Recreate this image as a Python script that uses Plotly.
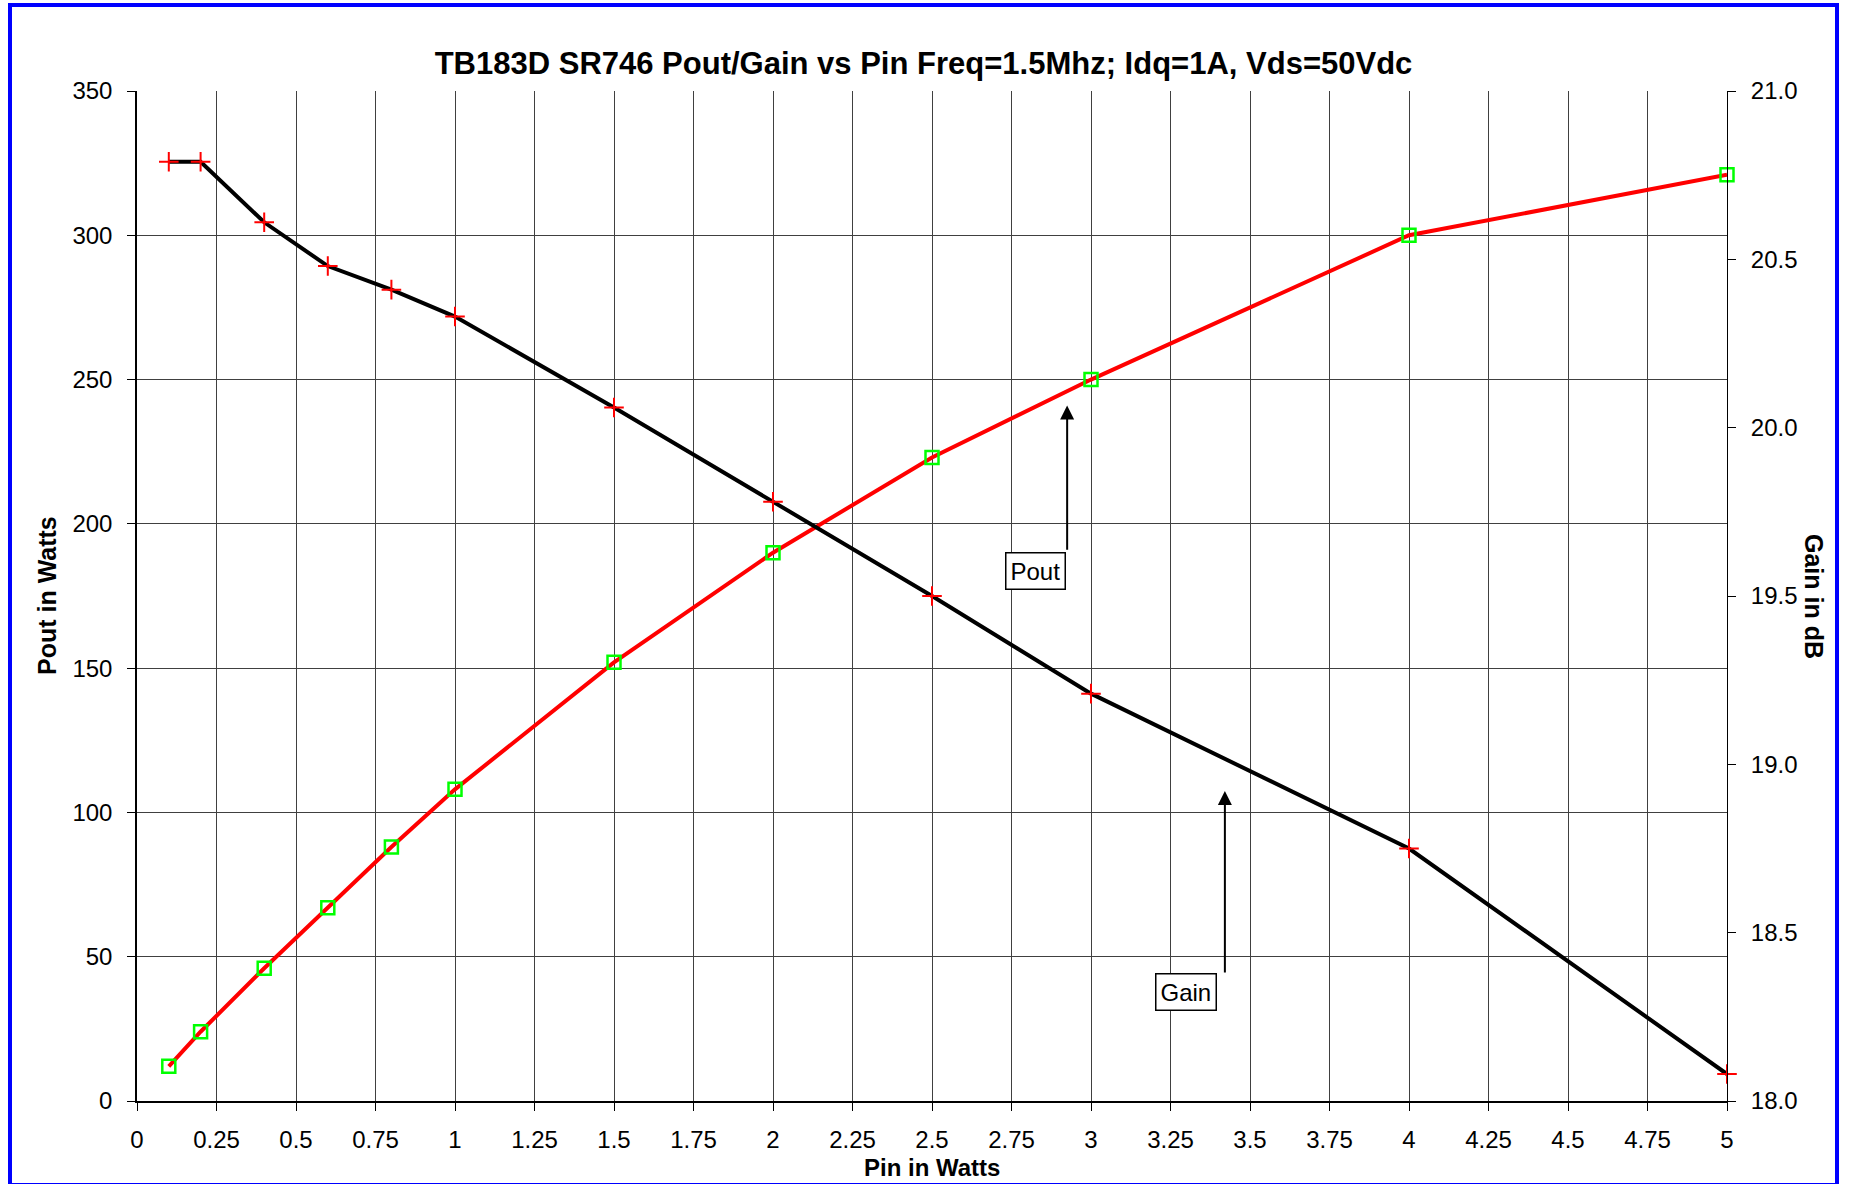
import plotly.graph_objects as go

# ---- data ----
pin_watts = [0.1, 0.2, 0.4, 0.6, 0.8, 1.0, 1.5, 2.0, 2.5, 3.0, 4.0, 5.0]
pout_watts = [12, 24, 46, 67, 88, 108, 152, 190, 223, 250, 300, 321]
gain_db = [20.79, 20.79, 20.61, 20.48, 20.41, 20.33, 20.06, 19.78, 19.50, 19.21, 18.75, 18.08]

x_tick_vals = [0, 0.25, 0.5, 0.75, 1, 1.25, 1.5, 1.75, 2, 2.25, 2.5, 2.75, 3,
               3.25, 3.5, 3.75, 4, 4.25, 4.5, 4.75, 5]
x_tick_text = ["0", "0.25", "0.5", "0.75", "1", "1.25", "1.5", "1.75", "2", "2.25",
               "2.5", "2.75", "3", "3.25", "3.5", "3.75", "4", "4.25", "4.5", "4.75", "5"]
y_left_ticks = [0, 50, 100, 150, 200, 250, 300, 350]
y_right_ticks = [18.0, 18.5, 19.0, 19.5, 20.0, 20.5, 21.0]
y_right_text = ["18.0", "18.5", "19.0", "19.5", "20.0", "20.5", "21.0"]

title_text = "TB183D SR746 Pout/Gain vs Pin Freq=1.5Mhz; Idq=1A, Vds=50Vdc"

W, H = 1851, 1184
ML, MR, MT, MB = 137, 124, 91, 83
PW, PH = W - ML - MR, H - MT - MB

FONT = "Liberation Sans, Arial, sans-serif"

fig = go.Figure()

fig.add_trace(go.Scatter(
    x=pin_watts, y=pout_watts, name="Pout", mode="lines+markers",
    line=dict(color="#ff0000", width=4),
    marker=dict(symbol="square-open", size=13, color="#00ff00",
                line=dict(color="#00ff00", width=2.5)),
    yaxis="y", showlegend=False, cliponaxis=False,
))
fig.add_trace(go.Scatter(
    x=pin_watts, y=gain_db, name="Gain", mode="lines+markers",
    line=dict(color="#000000", width=4),
    marker=dict(symbol="cross-thin", size=14, color="#ff0000",
                line=dict(color="#ff0000", width=2)),
    yaxis="y2", showlegend=False, cliponaxis=False,
))

axis_font = dict(family=FONT, size=24, color="#000000")

fig.update_layout(
    width=W, height=H,
    margin=dict(l=ML, r=MR, t=MT, b=MB, pad=0),
    paper_bgcolor="#ffffff", plot_bgcolor="#ffffff",
    font=dict(family=FONT, color="#000000"),
    title=dict(text="<b>" + title_text + "</b>", font=dict(family=FONT, size=31, color="#000000"),
               x=923.5 / W, xref="container", xanchor="center",
               y=1 - 63 / H, yref="container", yanchor="middle"),
    xaxis=dict(range=[0, 5], tickvals=x_tick_vals, ticktext=x_tick_text,
               showgrid=True, gridcolor="#404040", gridwidth=1,
               showline=True, linecolor="#000000", linewidth=1.5,
               ticks="outside", ticklen=8, tickcolor="#000000", tickwidth=1,
               tickfont=axis_font, ticklabelstandoff=8, zeroline=False, mirror=False),
    yaxis=dict(range=[0, 350], tickvals=y_left_ticks,
               showgrid=True, gridcolor="#404040", gridwidth=1,
               showline=True, linecolor="#000000", linewidth=1.5,
               ticks="outside", ticklen=8, tickcolor="#000000", tickwidth=1,
               tickfont=axis_font, ticklabelstandoff=10, zeroline=False),
    yaxis2=dict(range=[18, 21], tickvals=y_right_ticks, ticktext=y_right_text,
                overlaying="y", side="right", showgrid=False,
                showline=True, linecolor="#000000", linewidth=1,
                ticks="outside", ticklen=8, tickcolor="#000000", tickwidth=1,
                tickfont=axis_font, ticklabelstandoff=10, zeroline=False),
)

# outer blue frame
fig.add_shape(type="rect", xref="paper", yref="paper",
              x0=(10 - ML) / PW, x1=(1837 - ML) / PW,
              y0=(H - MB - 1185) / PH, y1=(H - MB - 5) / PH,
              line=dict(color="#0000ff", width=4), fillcolor="rgba(0,0,0,0)", layer="above")

# axis titles
title_font = dict(family=FONT, size=25, color="#000000")
fig.add_annotation(text="<b>Pout in Watts</b>", xref="paper", yref="paper", x=0, y=0.5,
                   xanchor="center", yanchor="middle",
                   xshift=47 - ML, textangle=-90, showarrow=False, font=title_font)
fig.add_annotation(text="<b>Gain in dB</b>", xref="paper", yref="paper", x=1, y=0.5,
                   xanchor="center", yanchor="middle",
                   xshift=1814 - (W - MR), textangle=90, showarrow=False, font=title_font)
fig.add_annotation(text="<b>Pin in Watts</b>", xref="paper", yref="paper", x=0.5, y=0,
                   xanchor="center", yanchor="middle",
                   yshift=-(1167 - (H - MB)), showarrow=False,
                   font=dict(family=FONT, size=24, color="#000000"))

# callout labels and arrows
box_font = dict(family=FONT, size=24, color="#000000")
fig.add_annotation(text="Pout", x=2.825, y=183.7, xref="x", yref="y", showarrow=False,
                   bordercolor="#000000", borderwidth=1.5, borderpad=4, bgcolor="#ffffff",
                   font=box_font)
fig.add_annotation(text="", x=2.925, y=241, ax=2.925, ay=190.5, xref="x", yref="y",
                   axref="x", ayref="y", showarrow=True, arrowhead=2, arrowsize=1.4,
                   arrowwidth=2, arrowcolor="#000000")
fig.add_annotation(text="Gain", x=3.299, y=37.8, xref="x", yref="y", showarrow=False,
                   bordercolor="#000000", borderwidth=1.5, borderpad=4, bgcolor="#ffffff",
                   font=box_font)
fig.add_annotation(text="", x=3.421, y=107.4, ax=3.421, ay=44, xref="x", yref="y",
                   axref="x", ayref="y", showarrow=True, arrowhead=2, arrowsize=1.4,
                   arrowwidth=2, arrowcolor="#000000")

fig.write_html("out.html", config={"displayModeBar": False},
               post_script="document.body.style.margin='0';document.body.style.overflow='hidden';")
